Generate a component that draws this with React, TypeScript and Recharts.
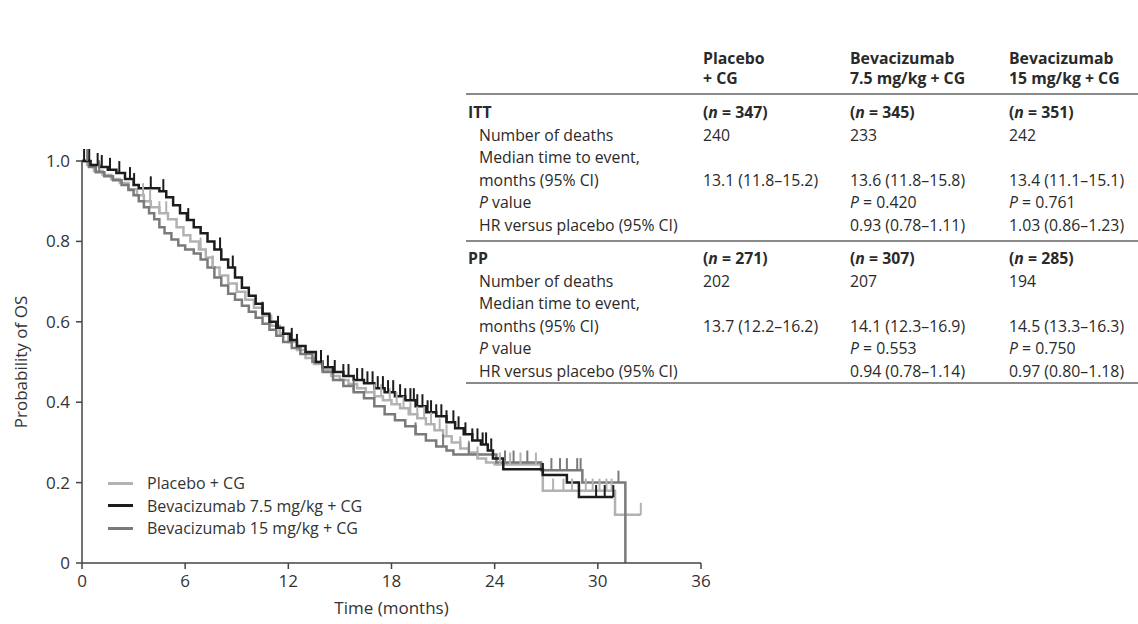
import React from 'react';
import { LineChart, Line, XAxis, YAxis } from 'recharts';

// Kaplan–Meier steps: [months, survival probability]
const placeboSteps: [number, number][] = [
  [0, 1.0], [0.3, 0.99], [0.7, 0.975], [1.2, 0.965], [1.7, 0.955], [2.2, 0.945], [2.7, 0.93],
  [3.2, 0.915], [3.6, 0.9], [4.0, 0.885], [4.5, 0.87], [5.0, 0.855], [5.5, 0.835], [5.9, 0.815],
  [6.3, 0.8], [6.8, 0.78], [7.2, 0.76], [7.6, 0.735], [8.0, 0.715], [8.5, 0.695], [9.0, 0.675],
  [9.5, 0.655], [10.0, 0.635], [10.5, 0.615], [11.0, 0.59], [11.5, 0.57], [12.0, 0.55], [12.5, 0.53],
  [13.0, 0.51], [13.5, 0.495], [14.0, 0.48], [14.5, 0.465], [15.0, 0.455], [15.5, 0.445], [16.0, 0.435],
  [16.5, 0.425], [17.0, 0.415], [17.5, 0.405], [18.0, 0.395], [18.5, 0.385], [19.0, 0.37], [19.5, 0.36],
  [20.0, 0.345], [20.5, 0.33], [21.0, 0.315], [21.5, 0.3], [22.0, 0.285], [22.5, 0.275], [23.0, 0.26],
  [23.5, 0.25], [24.0, 0.245], [26.8, 0.18], [31.0, 0.12],
];
const placeboCensored = [
  3.55, 3.96, 4.5, 4.9, 6.9, 7.6, 17.0, 17.4, 17.9, 18.3, 18.7, 19.1, 19.5, 19.9, 20.3, 20.8,
  21.2, 22.0, 22.5, 23.0, 24.3, 24.9, 25.5, 26.4, 27.4, 28.0, 28.5, 29.3, 29.7, 30.1, 30.5, 30.8, 32.5,
];

const bev75Steps: [number, number][] = [
  [0, 1.0], [0.5, 0.99], [1.0, 0.985], [1.5, 0.978], [2.0, 0.97], [2.5, 0.955], [3.0, 0.94],
  [3.3, 0.932], [4.5, 0.925], [4.9, 0.91], [5.3, 0.89], [5.7, 0.87], [6.1, 0.853], [6.5, 0.835],
  [6.9, 0.82], [7.3, 0.8], [7.7, 0.78], [8.1, 0.755], [8.5, 0.735], [8.9, 0.71], [9.3, 0.685],
  [9.7, 0.665], [10.1, 0.645], [10.5, 0.62], [10.9, 0.6], [11.3, 0.585], [11.7, 0.57], [12.1, 0.555],
  [12.5, 0.54], [13.0, 0.525], [13.6, 0.5], [14.0, 0.487], [14.6, 0.475], [15.2, 0.465], [15.8, 0.455],
  [16.4, 0.447], [17.0, 0.435], [17.6, 0.425], [18.2, 0.415], [18.8, 0.405], [19.4, 0.39], [20.0, 0.375],
  [20.6, 0.365], [21.2, 0.35], [21.7, 0.335], [22.2, 0.32], [22.7, 0.305], [23.2, 0.295], [23.6, 0.28],
  [23.9, 0.26], [24.5, 0.233], [26.8, 0.219], [28.2, 0.2], [28.9, 0.164],
];
const bev75Censored = [
  0.12, 0.42, 0.91, 1.15, 1.63, 2.17, 2.79, 3.03, 4.0, 4.73, 6.18, 8.03, 8.77, 10.5, 11.4, 12.2,
  12.5, 13.9, 14.3, 14.7, 15.2, 15.5, 16.0, 16.3, 16.6, 16.9, 17.2, 17.5, 17.8, 18.1, 18.5, 18.8,
  19.1, 19.3, 19.5, 19.8, 20.1, 20.3, 20.6, 20.9, 21.2, 21.6, 21.9, 22.3, 22.7, 23.0, 23.3, 23.5,
  23.8, 26.8, 29.9, 30.4, 30.9,
];

const bev15Steps: [number, number][] = [
  [0, 1.0], [0.4, 0.985], [0.8, 0.972], [1.3, 0.962], [1.8, 0.952], [2.3, 0.94], [2.7, 0.928],
  [3.0, 0.915], [3.3, 0.9], [3.6, 0.885], [3.9, 0.87], [4.2, 0.855], [4.5, 0.835], [4.8, 0.82],
  [5.2, 0.805], [5.6, 0.79], [6.0, 0.78], [6.5, 0.77], [6.9, 0.755], [7.3, 0.735], [7.7, 0.71],
  [8.1, 0.69], [8.5, 0.67], [8.9, 0.655], [9.3, 0.64], [9.7, 0.625], [10.1, 0.61], [10.5, 0.595],
  [10.9, 0.58], [11.3, 0.565], [11.7, 0.55], [12.2, 0.535], [12.7, 0.52], [13.4, 0.5], [14.0, 0.475],
  [14.6, 0.455], [15.2, 0.44], [15.8, 0.425], [16.4, 0.41], [17.0, 0.39], [17.6, 0.37], [18.2, 0.355],
  [18.8, 0.34], [19.4, 0.32], [20.0, 0.305], [20.6, 0.29], [21.2, 0.28], [21.6, 0.27], [24.1, 0.25],
  [26.7, 0.231], [29.1, 0.2], [31.6, 0],
];
const bev15Censored = [
  0.3, 1.0, 14.0, 15.8, 19.4, 21.0, 22.5, 24.6, 25.1, 25.9, 27.3, 27.8, 28.2, 28.8, 29.0, 31.2,
];

const xTicks = [0, 6, 12, 18, 24, 30, 36];
const yTicks = [0, 0.2, 0.4, 0.6, 0.8, 1.0];

const seriesNames = ['Placebo + CG', 'Bevacizumab 7.5 mg/kg + CG', 'Bevacizumab 15 mg/kg + CG'];
const seriesColors = ['#b2b2b2', '#1c1c1c', '#7a7a7a'];

// table text
const colHeads = [['Placebo', '+ CG'], ['Bevacizumab', '7.5 mg/kg + CG'], ['Bevacizumab', '15 mg/kg + CG']];
const rowLabels = ['Number of deaths', 'Median time to event,', 'months (95% CI)', 'P value', 'HR versus placebo (95% CI)'];
const ittN = ['347', '345', '351'];
const ittDeaths = ['240', '233', '242'];
const ittMedian = ['13.1 (11.8–15.2)', '13.6 (11.8–15.8)', '13.4 (11.1–15.1)'];
const ittP = ['', '0.420', '0.761'];
const ittHR = ['', '0.93 (0.78–1.11)', '1.03 (0.86–1.23)'];
const ppN = ['271', '307', '285'];
const ppDeaths = ['202', '207', '194'];
const ppMedian = ['13.7 (12.2–16.2)', '14.1 (12.3–16.9)', '14.5 (13.3–16.3)'];
const ppP = ['', '0.553', '0.750'];
const ppHR = ['', '0.94 (0.78–1.14)', '0.97 (0.80–1.18)'];

const FONT = '"Open Sans", sans-serif';

type Pt = { t: number; p: number; c: boolean };

const buildSeries = (steps: [number, number][], censored: number[]): Pt[] => {
  const pts: Pt[] = steps.map(([t, p]) => ({ t, p, c: false }));
  censored.forEach((t) => {
    let p = steps[0][1];
    steps.forEach(([st, sp]) => {
      if (st <= t) p = sp;
    });
    pts.push({ t, p, c: true });
  });
  return pts.sort((a, b) => a.t - b.t || (a.c ? 1 : 0) - (b.c ? 1 : 0));
};

const series = [
  buildSeries(placeboSteps, placeboCensored),
  buildSeries(bev75Steps, bev75Censored),
  buildSeries(bev15Steps, bev15Censored),
];

const censorDot = (color: string) => (props: any) => {
  const { cx, cy, payload, index } = props;
  if (!payload || !payload.c) return <g key={`n${index}`} />;
  return <line key={`c${index}`} x1={cx} x2={cx} y1={cy} y2={cy - 12} stroke={color} strokeWidth={2} />;
};

const Cell = ({ x, y, children, bold }: { x: number; y: number; children: React.ReactNode; bold?: boolean }) => (
  <div
    style={{
      position: 'absolute',
      left: x,
      top: y - 11,
      height: 22,
      lineHeight: '22px',
      whiteSpace: 'nowrap',
      fontWeight: bold ? 700 : 400,
    }}
  >
    {children}
  </div>
);

const Rule = ({ y }: { y: number }) => (
  <div style={{ position: 'absolute', left: 466, width: 672, top: y - 1, height: 2, background: '#8a8a8a' }} />
);

const colX = [703, 850, 1009];

const Section = ({ title, top, n, deaths, median, p, hr }: any) => {
  const rows = [top + 23, top + 45.5, top + 68, top + 90.5, top + 113];
  return (
    <>
      <Cell x={468} y={top} bold>{title}</Cell>
      {n.map((v: string, i: number) => (
        <Cell key={`n${i}`} x={colX[i]} y={top} bold>
          (<i>n</i> = {v})
        </Cell>
      ))}
      {rowLabels.map((lab, i) => (
        <Cell key={`l${i}`} x={479} y={rows[i]}>
          {i === 3 ? (<><i>P</i> value</>) : lab}
        </Cell>
      ))}
      {deaths.map((v: string, i: number) => <Cell key={`d${i}`} x={colX[i]} y={rows[0]}>{v}</Cell>)}
      {median.map((v: string, i: number) => <Cell key={`m${i}`} x={colX[i]} y={rows[2]}>{v}</Cell>)}
      {p.map((v: string, i: number) => v ? <Cell key={`p${i}`} x={colX[i]} y={rows[3]}><i>P</i> = {v}</Cell> : null)}
      {hr.map((v: string, i: number) => v ? <Cell key={`h${i}`} x={colX[i]} y={rows[4]}>{v}</Cell> : null)}
    </>
  );
};

const App = () => {
  const axisColor = '#444';
  return (
    <div style={{ position: 'absolute', left: 0, top: 0, width: 1138, height: 624, background: '#fff', fontFamily: FONT, color: '#2a2a2a', fontSize: 15.8 }}>
      <div style={{ position: 'absolute', left: 0, top: 0 }}>
        <LineChart width={720} height={624} margin={{ top: 161, right: 19, bottom: 8, left: 0 }}>
          <XAxis
            dataKey="t"
            type="number"
            domain={[0, 36]}
            ticks={xTicks}
            allowDataOverflow
            height={53}
            stroke={axisColor}
            strokeWidth={1.5}
            tickSize={6}
            tickMargin={6}
            tick={{ fill: '#333', fontSize: 17, fontFamily: FONT }}
            label={{ value: 'Time (months)', position: 'insideBottom', offset: 2, fill: '#333', fontSize: 17, fontFamily: FONT }}
          />
          <YAxis
            type="number"
            domain={[0, 1]}
            ticks={yTicks}
            width={82}
            stroke={axisColor}
            strokeWidth={1.5}
            tickSize={6}
            tickMargin={6}
            tick={{ fill: '#333', fontSize: 17, fontFamily: FONT }}
            tickFormatter={(v: number) => (v === 0 ? '0' : v.toFixed(1))}
            label={{
              content: (props: any) => {
                const vb = props.viewBox || { x: 0, y: 161, width: 82, height: 402 };
                const cx = vb.x + 20;
                const cy = vb.y + vb.height / 2;
                return (
                  <text x={cx} y={cy} transform={`rotate(-90 ${cx} ${cy})`} textAnchor="middle" dominantBaseline="central" fill="#333" fontSize={17} fontFamily={FONT}>
                    Probability of OS
                  </text>
                );
              },
            }}
          />
          {[0, 2, 1].map((i) => (
            <Line
              key={seriesNames[i]}
              data={series[i]}
              dataKey="p"
              type="stepAfter"
              stroke={seriesColors[i]}
              strokeWidth={2.5}
              dot={censorDot(seriesColors[i])}
              activeDot={false}
              isAnimationActive={false}
            />
          ))}
        </LineChart>
      </div>

      {/* legend */}
      {seriesNames.map((name, i) => (
        <div key={name} style={{ position: 'absolute', left: 108, top: 483 + i * 22.5 - 11, height: 22, display: 'flex', alignItems: 'center', fontSize: 16, color: '#333' }}>
          <span style={{ display: 'inline-block', width: 25, height: 3, background: seriesColors[i], marginRight: 14 }} />
          {name}
        </div>
      ))}

      {/* table */}
      {colHeads.map((h, i) => (
        <React.Fragment key={`h${i}`}>
          <Cell x={colX[i]} y={58} bold>{h[0]}</Cell>
          <Cell x={colX[i]} y={78} bold>{h[1]}</Cell>
        </React.Fragment>
      ))}
      <Rule y={94} />
      <Section title="ITT" top={111.5} n={ittN} deaths={ittDeaths} median={ittMedian} p={ittP} hr={ittHR} />
      <Rule y={241} />
      <Section title="PP" top={257.5} n={ppN} deaths={ppDeaths} median={ppMedian} p={ppP} hr={ppHR} />
      <Rule y={383} />
    </div>
  );
};

export default App;
